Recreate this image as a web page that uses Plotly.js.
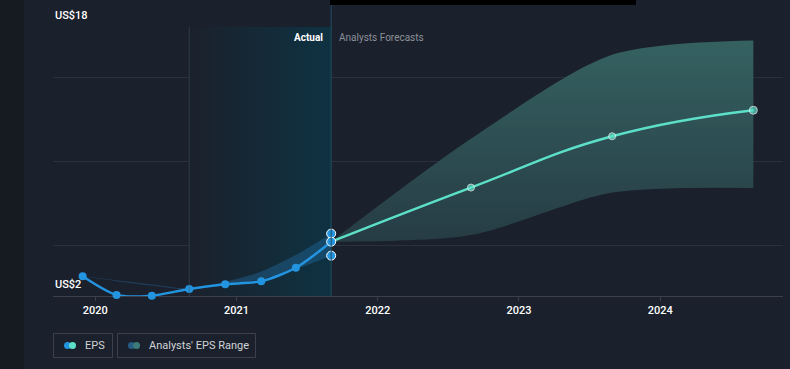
<!DOCTYPE html>
<html>
<head>
<meta charset="utf-8">
<script src="https://cdn.plot.ly/plotly-3.0.1.min.js"></script>
<style>html,body{margin:0;padding:0;background:#1b212c;}#chart{width:790px;height:369px;}</style>
</head>
<body>
<div id="chart"></div>
<script>
// ---- data (decimal years, US$) ----
const epsDates = [2019.91, 2020.15, 2020.40, 2020.665, 2020.92, 2021.175, 2021.42, 2021.67];
const epsValues = [3.17, 2.06, 2.02, 2.42, 2.70, 2.88, 3.68, 5.23];

const pastRangeDates = [2019.91, 2020.15, 2020.40, 2020.665, 2020.92, 2021.175, 2021.42, 2021.67];
const pastRangeHigh = [3.17, 2.93, 2.68, 2.45, 2.85, 3.45, 4.45, 5.71];
const pastRangeLow  = [3.17, 2.88, 2.62, 2.38, 2.72, 3.00, 3.60, 4.40];

const fcDates = [2021.67, 2022.66, 2023.66, 2024.66];
const fcValues = [5.23, 8.45, 11.50, 13.05];
const fcHigh = [5.23, 11.35, 16.35, 17.20];
const fcLow  = [5.23, 5.63, 8.15, 8.43];

const lastActual = {date: 2021.67, high: 5.71, mean: 5.23, low: 4.40};
const actualStart = 2020.665;

const yearTicks = [2020, 2021, 2022, 2023, 2024];
const yearLabels = ['2020', '2021', '2022', '2023', '2024'];
const yGrid = [2, 5, 10, 15, 18];
const yRange = [2, 18];
const xRange = [2019.70, 2024.87];

// ---- traces ----
const traces = [];
// actual period shading
traces.push({
  x: [actualStart, lastActual.date, lastActual.date, actualStart, actualStart],
  y: [yRange[0], yRange[0], yRange[1], yRange[1], yRange[0]],
  mode: 'lines', line: {width: 0}, fill: 'toself',
  fillgradient: {type: 'horizontal', colorscale: [[0, 'rgba(27,33,44,1)'], [1, 'rgba(14,50,66,1)']]},
  hoverinfo: 'skip', showlegend: false
});
// forecast range
traces.push({x: fcDates, y: fcLow, mode: 'lines', line: {width: 0, shape: 'spline', smoothing: 0.8}, hoverinfo: 'skip', showlegend: false});
traces.push({x: fcDates, y: fcHigh, mode: 'lines', line: {width: 0, shape: 'spline', smoothing: 0.8}, fill: 'tonexty',
  fillgradient: {type: 'vertical', colorscale: [[0, 'rgb(38,60,68)'], [1, 'rgb(53,97,97)']]},
  hoverinfo: 'skip', showlegend: false});
// past range
traces.push({x: pastRangeDates, y: pastRangeLow, mode: 'lines', line: {width: 0, shape: 'spline', smoothing: 0.8}, hoverinfo: 'skip', showlegend: false});
traces.push({x: pastRangeDates, y: pastRangeHigh, mode: 'lines', line: {width: 0, shape: 'spline', smoothing: 0.8}, fill: 'tonexty',
  fillcolor: 'rgba(36,120,180,0.35)', hoverinfo: 'skip', showlegend: false});
// forecast line
traces.push({x: fcDates, y: fcValues, mode: 'lines+markers', cliponaxis: false,
  line: {color: '#5de0c8', width: 2.5, shape: 'spline', smoothing: 1.3},
  marker: {color: '#5de0c8', size: [0, 7, 7, 8]}, hoverinfo: 'skip', showlegend: false});
// EPS line
traces.push({x: epsDates, y: epsValues, mode: 'lines+markers', cliponaxis: false,
  line: {color: '#2394df', width: 2.5, shape: 'spline', smoothing: 0.8},
  marker: {color: '#2394df', size: 8}, hoverinfo: 'skip', showlegend: false});
// last actual high/mean/low markers
traces.push({x: [lastActual.date, lastActual.date, lastActual.date], y: [lastActual.high, lastActual.mean, lastActual.low],
  mode: 'markers', cliponaxis: false, marker: {color: '#2394df', size: 9, line: {color: '#ffffff', width: 1}}, hoverinfo: 'skip', showlegend: false});

// ---- layout helpers ----
const W = 790, H = 369, L = 53, R = 7, T = 27, B = 73;
const pw = W - L - R, ph = H - T - B;
const px = v => (v - L) / pw;        // pixel x -> paper
const py = v => (H - B - v) / ph;    // pixel y -> paper

const shapes = [
  // left dark strip
  {type: 'rect', xref: 'paper', yref: 'paper', x0: px(0), x1: px(24), y0: py(H), y1: py(0), fillcolor: '#161a21', line: {width: 0}, layer: 'below'},
  // boundary lines of actual period
  {type: 'line', xref: 'x', yref: 'paper', x0: actualStart, x1: actualStart, y0: 0, y1: 1, line: {color: 'rgba(60,90,105,0.5)', width: 1}},
  {type: 'line', xref: 'x', yref: 'paper', x0: lastActual.date, x1: lastActual.date, y0: 0, y1: py(0), line: {color: '#1f4d60', width: 1}},
  // top black bar
  {type: 'rect', xref: 'paper', yref: 'paper', x0: px(330), x1: px(636), y0: py(5), y1: py(0), fillcolor: '#000000', line: {width: 0}},
  // legend boxes
  {type: 'rect', xref: 'paper', yref: 'paper', x0: px(53.5), x1: px(112.5), y0: py(357.5), y1: py(333.5), line: {color: '#3b404b', width: 1}, fillcolor: 'rgba(0,0,0,0)'},
  {type: 'rect', xref: 'paper', yref: 'paper', x0: px(117.5), x1: px(255.5), y0: py(357.5), y1: py(333.5), line: {color: '#3b404b', width: 1}, fillcolor: 'rgba(0,0,0,0)'},
  // legend icons
  {type: 'circle', xref: 'paper', yref: 'paper', x0: px(64), x1: px(71), y0: py(349), y1: py(342), fillcolor: '#2394df', line: {width: 0}},
  {type: 'circle', xref: 'paper', yref: 'paper', x0: px(69), x1: px(76), y0: py(349), y1: py(342), fillcolor: '#5de0c8', line: {width: 0}},
  {type: 'circle', xref: 'paper', yref: 'paper', x0: px(128), x1: px(135), y0: py(349), y1: py(342), fillcolor: '#275d85', line: {width: 0}},
  {type: 'circle', xref: 'paper', yref: 'paper', x0: px(133), x1: px(140), y0: py(349), y1: py(342), fillcolor: '#3d7b7b', line: {width: 0}}
];

const font = 'Roboto, "Open Sans", sans-serif';
const annotations = [
  {xref: 'paper', yref: 'y', x: 0, y: 18, xanchor: 'left', yanchor: 'bottom', yshift: 3, text: 'US$18', showarrow: false, font: {family: font, size: 11, color: '#ffffff', weight: 500}},
  {xref: 'paper', yref: 'y', x: 0, y: 2, xanchor: 'left', yanchor: 'bottom', yshift: 3, text: 'US$2', showarrow: false, font: {family: font, size: 11, color: '#ffffff', weight: 500}},
  {xref: 'x', yref: 'paper', x: lastActual.date, y: py(37), xanchor: 'right', yanchor: 'middle', xshift: -6, text: '<b>Actual</b>', showarrow: false, font: {family: font, size: 10, color: '#ffffff'}},
  {xref: 'x', yref: 'paper', x: lastActual.date, y: py(37), xanchor: 'left', yanchor: 'middle', xshift: 6, text: 'Analysts Forecasts', showarrow: false, font: {family: font, size: 10, color: '#8b909a'}},
  {xref: 'paper', yref: 'paper', x: px(83), y: py(345.5), xanchor: 'left', yanchor: 'middle', text: 'EPS', showarrow: false, font: {family: font, size: 11, color: '#d0d3d8'}},
  {xref: 'paper', yref: 'paper', x: px(147), y: py(345.5), xanchor: 'left', yanchor: 'middle', text: "Analysts' EPS Range", showarrow: false, font: {family: font, size: 11, color: '#d0d3d8'}}
];

const layout = {
  width: W, height: H,
  margin: {l: L, r: R, t: T, b: B},
  paper_bgcolor: '#1b212c', plot_bgcolor: '#1b212c',
  showlegend: false,
  xaxis: {range: xRange, tickvals: yearTicks, ticktext: yearLabels, showgrid: false, zeroline: false,
    showline: true, linecolor: '#3b404b', linewidth: 1, ticks: 'outside', ticklen: 4, tickcolor: '#3b404b',
    layer: 'below traces',
    tickfont: {family: font, size: 11, color: '#ffffff', weight: 500}, fixedrange: true},
  yaxis: {range: yRange, tickvals: yGrid, showticklabels: false, showgrid: true, gridcolor: '#2b313c', gridwidth: 1,
    layer: 'below traces', zeroline: false, showline: false, fixedrange: true},
  shapes: shapes,
  annotations: annotations
};

Plotly.newPlot('chart', traces, layout, {staticPlot: true, displayModeBar: false});
</script>
</body>
</html>
